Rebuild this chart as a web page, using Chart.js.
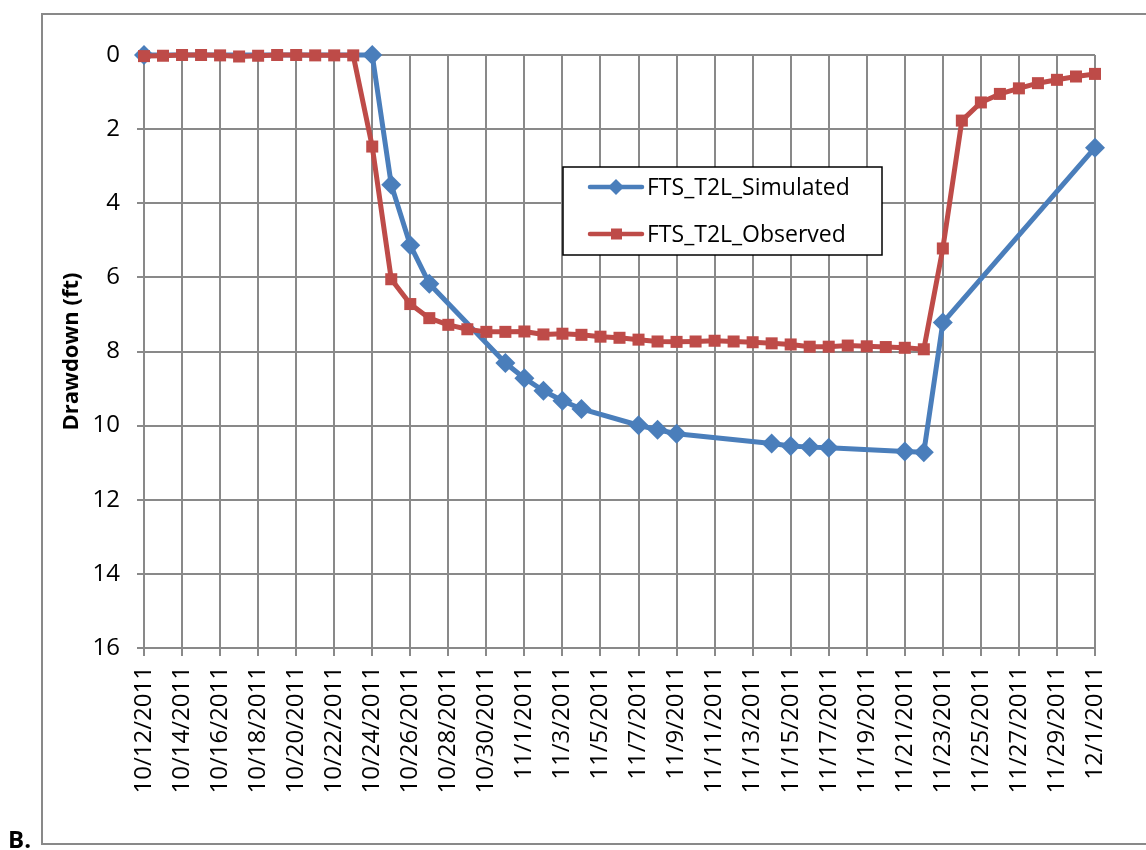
<!DOCTYPE html>
<html>
<head>
<meta charset="utf-8">
<title>FTS_T2L Drawdown</title>
<script src="https://cdn.jsdelivr.net/npm/chart.js@4/dist/chart.umd.min.js"></script>
<style>
  html, body { margin: 0; padding: 0; background: #fff; }
  canvas { display: block; }
</style>
</head>
<body>
<canvas id="drawdownChart" width="1146" height="850"></canvas>
<script>
// ==== DỮ LIỆU ====
const simDates = [
  "10/12/2011", "10/24/2011", "10/25/2011", "10/26/2011", "10/27/2011",
  "10/31/2011", "11/1/2011", "11/2/2011", "11/3/2011", "11/4/2011",
  "11/7/2011", "11/8/2011", "11/9/2011", "11/14/2011", "11/15/2011",
  "11/16/2011", "11/17/2011", "11/21/2011", "11/22/2011", "11/23/2011",
  "12/1/2011"
];
const simValues = [
  0, 0, 3.5, 5.13, 6.17,
  8.31, 8.72, 9.06, 9.33, 9.55,
  9.99, 10.11, 10.22, 10.48, 10.55,
  10.58, 10.6, 10.7, 10.72, 7.22,
  2.5
];

const obsDates = [
  "10/12/2011", "10/13/2011", "10/14/2011", "10/15/2011", "10/16/2011",
  "10/17/2011", "10/18/2011", "10/19/2011", "10/20/2011", "10/21/2011",
  "10/22/2011", "10/23/2011", "10/24/2011", "10/25/2011", "10/26/2011",
  "10/27/2011", "10/28/2011", "10/29/2011", "10/30/2011", "10/31/2011",
  "11/1/2011", "11/2/2011", "11/3/2011", "11/4/2011", "11/5/2011",
  "11/6/2011", "11/7/2011", "11/8/2011", "11/9/2011", "11/10/2011",
  "11/11/2011", "11/12/2011", "11/13/2011", "11/14/2011", "11/15/2011",
  "11/16/2011", "11/17/2011", "11/18/2011", "11/19/2011", "11/20/2011",
  "11/21/2011", "11/22/2011", "11/23/2011", "11/24/2011", "11/25/2011",
  "11/26/2011", "11/27/2011", "11/28/2011", "11/29/2011", "11/30/2011",
  "12/1/2011"
];
const obsValues = [
  0.03, 0.02, 0, 0, 0.01,
  0.04, 0.02, 0, 0, 0.01,
  0.01, 0.01, 2.47, 6.05, 6.72,
  7.1, 7.28, 7.4, 7.47, 7.47,
  7.46, 7.54, 7.52, 7.55, 7.6,
  7.63, 7.68, 7.73, 7.74, 7.73,
  7.71, 7.73, 7.75, 7.78, 7.81,
  7.87, 7.87, 7.84, 7.86, 7.88,
  7.9, 7.94, 5.22, 1.77, 1.28,
  1.05, 0.9, 0.76, 0.67, 0.58,
  0.51
];

const xStart = "10/12/2011";
const xEnd = "12/1/2011";
const yTicks = [0, 2, 4, 6, 8, 10, 12, 14, 16];

// ==== HÀM TIỆN ÍCH ====
function toUTC(s) {
  const [m, d, y] = s.split("/").map(Number);
  return Date.UTC(y, m - 1, d);
}
const DAY = 86400000;
const START = toUTC(xStart);
function dayIndex(s) {
  return (toUTC(s) - START) / DAY;
}
function formatDay(v) {
  const dt = new Date(START + v * DAY);
  return (dt.getUTCMonth() + 1) + "/" + dt.getUTCDate() + "/" + dt.getUTCFullYear();
}
function toPoints(dates, values) {
  return dates.map((d, i) => ({ x: dayIndex(d), y: values[i] }));
}

const GRID = "#898989";
const BLUE = "#4A7EBB";
const RED = "#BE4B48";

// Khung ngoài + chữ "B."
const framePlugin = {
  id: "frame",
  beforeDraw(chart) {
    const ctx = chart.ctx;
    ctx.save();
    ctx.fillStyle = "#fff";
    ctx.fillRect(0, 0, chart.width, chart.height);
    ctx.strokeStyle = GRID;
    ctx.lineWidth = 2;
    ctx.strokeRect(42, 14, 1150, 830);
    ctx.fillStyle = "#000";
    ctx.font = "bold 24px 'Open Sans'";
    ctx.textBaseline = "alphabetic";
    ctx.fillText("B.", 8, 848);
    ctx.restore();
  },
};

// Chú thích có khung, đặt trong vùng vẽ
const boxLegendPlugin = {
  id: "boxLegend",
  afterDraw(chart) {
    const ctx = chart.ctx;
    const x0 = 563, y0 = 167, w = 319, h = 88;
    ctx.save();
    ctx.fillStyle = "#fff";
    ctx.fillRect(x0, y0, w, h);
    ctx.strokeStyle = "#000";
    ctx.lineWidth = 1.5;
    ctx.strokeRect(x0, y0, w, h);
    ctx.font = "23px 'Open Sans'";
    ctx.textBaseline = "middle";
    const rows = [187, 234];
    chart.data.datasets.forEach((ds, i) => {
      const y = rows[i];
      ctx.strokeStyle = ds.borderColor;
      ctx.lineWidth = 4.5;
      ctx.lineCap = "round";
      ctx.beginPath();
      ctx.moveTo(590, y);
      ctx.lineTo(642, y);
      ctx.stroke();
      ctx.fillStyle = ds.backgroundColor;
      if (ds.pointStyle === "rectRot") {
        ctx.beginPath();
        ctx.moveTo(616, y - 8);
        ctx.lineTo(624, y);
        ctx.lineTo(616, y + 8);
        ctx.lineTo(608, y);
        ctx.closePath();
        ctx.fill();
      } else {
        ctx.fillRect(611, y - 5.5, 11, 11);
      }
      ctx.fillStyle = "#000";
      ctx.fillText(ds.label, 647, y + 1);
    });
    ctx.restore();
  },
};

// ==== VẼ BIỂU ĐỒ ====
const ctx = document.getElementById("drawdownChart").getContext("2d");
new Chart(ctx, {
  type: "line",
  data: {
    datasets: [
      {
        label: "FTS_T2L_Simulated",
        data: toPoints(simDates, simValues),
        borderColor: BLUE,
        backgroundColor: BLUE,
        borderWidth: 5,
        pointStyle: "rectRot",
        pointRadius: 10,
        pointBorderWidth: 0,
        borderJoinStyle: "round",
        clip: false,
        order: 1,
      },
      {
        label: "FTS_T2L_Observed",
        data: toPoints(obsDates, obsValues),
        borderColor: RED,
        backgroundColor: RED,
        borderWidth: 5,
        pointStyle: "rect",
        pointRadius: 8.5,
        pointBorderWidth: 0,
        borderJoinStyle: "round",
        clip: false,
        order: 0,
      },
    ],
  },
  options: {
    responsive: false,
    animation: false,
    devicePixelRatio: 1,
    layout: { padding: { left: 56, top: 55, right: 51, bottom: 22 } },
    plugins: {
      legend: { display: false },
      tooltip: { enabled: false },
    },
    scales: {
      x: {
        type: "linear",
        min: 0,
        max: dayIndex(xEnd),
        afterFit: (s) => { s.height = 180; },
        afterBuildTicks: (s) => {
          const t = [];
          for (let v = 0; v <= dayIndex(xEnd); v += 2) t.push({ value: v });
          s.ticks = t;
        },
        grid: { color: GRID, lineWidth: 2, tickLength: 8 },
        border: { color: GRID, width: 2 },
        ticks: {
          autoSkip: false,
          minRotation: 90,
          maxRotation: 90,
          padding: 10,
          color: "#000",
          font: { family: "'Open Sans'", size: 24 },
          callback: (v) => formatDay(v),
        },
      },
      y: {
        reverse: true,
        min: yTicks[0],
        max: yTicks[yTicks.length - 1],
        afterFit: (s) => { s.width = 88; },
        afterBuildTicks: (s) => { s.ticks = yTicks.map((v) => ({ value: v })); },
        grid: { color: GRID, lineWidth: 2, tickLength: 7 },
        border: { color: GRID, width: 2 },
        ticks: {
          padding: 17,
          color: "#000",
          font: { family: "'Open Sans'", size: 24 },
        },
        title: {
          display: true,
          text: "Drawdown (ft)",
          color: "#000",
          font: { family: "'Open Sans'", size: 22, weight: "bold" },
          padding: { top: 3, bottom: 0 },
        },
      },
    },
  },
  plugins: [framePlugin, boxLegendPlugin],
});
</script>
</body>
</html>
